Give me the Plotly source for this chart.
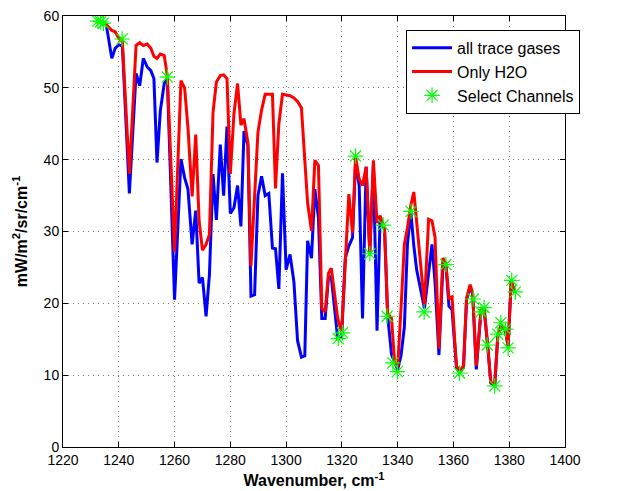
import plotly.graph_objects as go

# Channel wavenumbers (cm^-1) and radiances (mW/m^2/sr/cm^-1)
wavenumber = [
    1232.5, 1234.0, 1235.5, 1237.5, 1238.7, 1240.0, 1241.3, 1243.8, 1246.2, 1247.5,
    1248.8, 1250.2, 1251.5, 1252.6, 1253.7, 1254.9, 1256.3, 1257.4, 1260.0, 1262.3,
    1263.6, 1264.8, 1266.3, 1267.6, 1268.8, 1270.0, 1271.3, 1272.5, 1273.8, 1275.0,
    1276.4, 1277.6, 1278.8, 1280.0, 1281.3, 1282.6, 1283.8, 1284.9, 1286.3, 1287.4,
    1288.7, 1289.9, 1291.2, 1292.5, 1293.8, 1295.1, 1296.2, 1297.4, 1298.7, 1300.0,
    1301.4, 1302.8, 1304.1, 1305.5, 1306.7, 1307.7, 1309.1, 1310.3, 1311.6, 1312.8,
    1314.0, 1315.2, 1316.2, 1318.5, 1319.9, 1321.2, 1322.5, 1323.8, 1324.9, 1326.2,
    1327.4, 1328.7, 1330.0, 1331.3, 1332.6, 1333.7, 1335.3, 1336.4, 1337.8, 1338.9,
    1340.0, 1341.2, 1342.4, 1343.5, 1344.7, 1345.8, 1346.8, 1349.6, 1351.1, 1352.3,
    1353.4, 1354.8, 1356.2, 1357.3, 1358.4, 1359.5, 1360.5, 1361.1, 1362.2, 1363.6,
    1364.7, 1366.0, 1366.9, 1368.2, 1369.9, 1371.0, 1372.3, 1373.4, 1374.8, 1375.9,
    1377.0, 1378.5, 1379.6, 1380.7, 1382.0,
]

all_trace_gases = [
    59.2, 59.0, 58.8, 54.1, 55.5, 56.0, 55.8, 35.3, 52.0, 50.3,
    54.1, 52.9, 52.4, 51.3, 39.6, 46.8, 50.6, 51.3, 20.5, 40.1,
    37.5, 35.9, 28.2, 32.9, 22.8, 23.6, 18.2, 24.0, 38.0, 31.6,
    42.1, 35.0, 44.6, 32.5, 33.3, 36.4, 30.7, 44.0, 42.0, 21.0,
    21.2, 35.0, 37.7, 35.0, 35.3, 27.7, 27.6, 22.0, 38.1, 24.7,
    26.8, 23.0, 14.8, 12.5, 12.7, 28.7, 26.3, 35.9, 31.9, 17.9,
    17.9, 23.7, 23.7, 15.1, 15.3, 26.3, 28.0, 29.1, 39.7, 36.4,
    17.9, 39.0, 27.0, 39.2, 16.2, 31.9, 30.3, 18.3, 12.9, 11.8,
    10.8, 12.7, 16.7, 28.2, 32.8, 28.0, 24.7, 19.3, 24.0, 28.2,
    23.0, 12.8, 25.0, 25.4, 19.6, 19.1, 14.0, 11.0, 10.4, 11.0,
    20.5, 22.4, 21.2, 10.8, 19.0, 19.2, 14.0, 8.9, 8.6, 15.4,
    16.8, 16.4, 14.0, 23.0, 21.5,
]

only_h2o = [
    59.2, 59.0, 58.8, 58.0, 57.8, 56.9, 56.4, 38.0, 55.9, 56.3,
    55.9, 56.1, 55.5, 54.4, 54.1, 54.7, 54.5, 51.7, 27.2, 51.0,
    50.0, 44.5, 34.9, 43.5, 31.5, 27.4, 28.2, 29.6, 46.6, 50.8,
    51.7, 51.8, 51.3, 38.0, 46.4, 50.6, 44.8, 45.7, 42.4, 25.2,
    34.0, 43.8, 46.9, 49.1, 49.1, 49.1, 36.0, 45.0, 49.1, 49.0,
    48.9, 48.6, 48.1, 47.2, 39.0, 34.0, 30.1, 39.9, 39.2, 19.3,
    18.8, 24.2, 24.9, 17.9, 16.0, 26.3, 35.2, 29.8, 40.4, 37.3,
    36.4, 39.0, 27.0, 39.9, 31.2, 32.2, 30.3, 18.6, 17.9, 11.8,
    11.1, 19.3, 28.2, 30.5, 33.6, 35.5, 31.3, 19.8, 31.7, 31.5,
    29.2, 13.7, 26.3, 25.6, 20.7, 20.9, 14.6, 11.3, 10.6, 11.3,
    20.7, 22.6, 21.4, 11.3, 19.1, 19.3, 14.1, 9.0, 8.7, 15.5,
    16.9, 16.5, 14.1, 23.1, 21.6,
]

# Selected channels
select_wn = [
    1232.5, 1233.5, 1234.5, 1241.2, 1257.4, 1318.7, 1320.2, 1324.9, 1330.0, 1334.8,
    1336.2, 1338.3, 1339.9, 1344.8, 1349.5, 1357.3, 1362.2, 1367.1, 1369.9, 1371.0,
    1372.1, 1374.8, 1375.9, 1377.0, 1378.7, 1379.6, 1380.9, 1382.2,
]
select_val = [
    59.3, 59.2, 59.0, 56.8, 51.5, 15.1, 15.9, 40.5, 26.9, 30.9,
    18.2, 11.7, 10.5, 32.8, 18.8, 25.4, 10.3, 20.6, 18.8, 19.4,
    14.2, 8.5, 15.7, 17.3, 16.4, 13.8, 23.2, 21.6,
]

x_ticks = list(range(1220, 1401, 20))
y_ticks = list(range(0, 61, 10))

FONT = "Liberation Sans, Arial, Helvetica, sans-serif"

fig = go.Figure()
fig.add_trace(go.Scatter(
    x=wavenumber, y=all_trace_gases, mode="lines", name="all trace gases",
    line=dict(color="#0000ff", width=3),
))
fig.add_trace(go.Scatter(
    x=wavenumber, y=only_h2o, mode="lines", name="Only H2O",
    line=dict(color="#ff0000", width=3),
))
fig.add_trace(go.Scatter(
    x=select_wn, y=select_val, mode="markers", name="Select Channels",
    marker=dict(symbol="asterisk-open", size=13, color="#00ff00",
                line=dict(color="#00ff00", width=1.2)),
))

axis_common = dict(
    showline=True, linecolor="black", linewidth=1, mirror="ticks",
    ticks="inside", ticklen=5, tickcolor="black", automargin=False,
    showgrid=True, gridcolor="#777777", griddash="1px,4px", gridwidth=1,
    zeroline=False, tickfont=dict(size=14, color="black", family=FONT),
)

fig.update_xaxes(
    range=[1220, 1400], tickvals=x_ticks, ticktext=[str(v) for v in x_ticks],
    title=dict(text="<b>Wavenumber, cm<sup>-1</sup></b>",
               font=dict(size=16, color="black", family=FONT), standoff=8),
    **axis_common,
)
fig.update_yaxes(
    range=[0, 60], tickvals=y_ticks, ticktext=[str(v) for v in y_ticks],
    title=dict(text="<b>mW/m<sup>2</sup>/sr/cm<sup>-1</sup></b>",
               font=dict(size=16, color="black", family=FONT), standoff=12),
    **axis_common,
)

fig.update_layout(
    width=626, height=491,
    margin=dict(l=63, r=61, t=16, b=44),
    paper_bgcolor="white", plot_bgcolor="white",
    font=dict(family=FONT, color="black"),
    legend=dict(
        x=1.03, y=0.968, xanchor="right", yanchor="top",
        bgcolor="white", bordercolor="black", borderwidth=1,
        font=dict(size=16, color="black", family=FONT),
        tracegroupgap=0, itemwidth=40,
    ),
    showlegend=True,
)

fig.write_html("out.html")
